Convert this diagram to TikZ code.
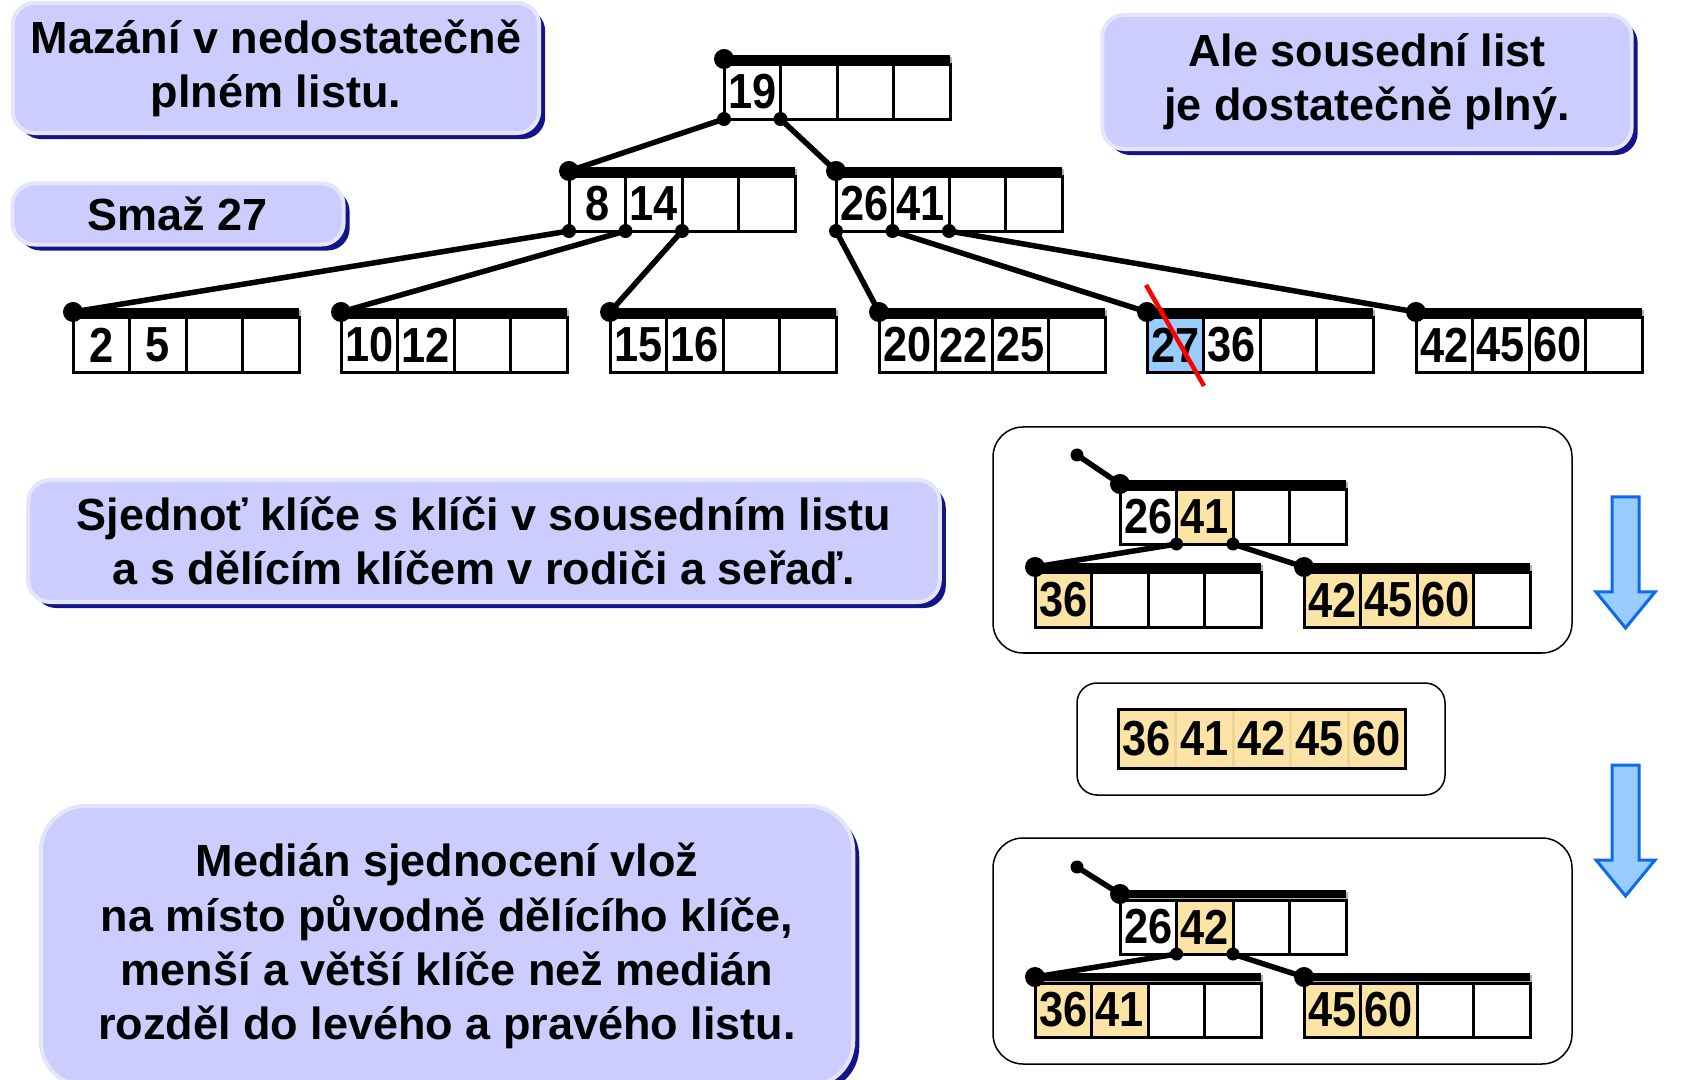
\documentclass[tikz,border=0pt]{standalone}
\usepackage{fontspec}
\setmainfont{Liberation Sans}
\newfontfamily\keyfont{Liberation Sans}[FakeStretch=0.88]
\usetikzlibrary{calc,shadows}

\definecolor{lav}{HTML}{CCCCFF}
\definecolor{lavrim}{HTML}{E4E4FB}
\definecolor{navy}{HTML}{14148A}
\definecolor{sand}{HTML}{FCE3A6}
\definecolor{sandline}{HTML}{EDD595}
\definecolor{sky}{HTML}{99CCFF}
\definecolor{skyline}{HTML}{0A6AF0}

% one B-tree page: name, top-left corner of its cells, key/fill list
\newcommand{\btpage}[3]{%
  \coordinate (#1) at (#2);
  \fill[black!30] ($(#1)+(2,-8)$) rectangle ($(#1)+(228,56)$);
  \foreach \k/\f [count=\i] in {#3}
    \node[cell, fill=\f] (#1-\i) at ($(#1)+(\i*56.5-56.5,0)$) {\k};
  \draw[topbar] ($(#1)+(0,-6)$) -- ($(#1-4.north east)+(0,-6)$);
  \fill ($(#1)+(0,-6)$) coordinate (#1-top) circle (1mm);
}

\begin{document}
\begin{tikzpicture}[x=0.01cm, y=-0.01cm,
  cell/.style={draw, line width=0.3mm, anchor=north west, minimum width=5.65mm,
    minimum height=5.4mm, inner sep=0pt, outer sep=0pt,
    font=\keyfont\fontsize{14}{14}\selectfont\bfseries},
  rowcell/.style={cell, draw=sandline, fill=sand, minimum width=5.75mm,
    minimum height=5.9mm},
  topbar/.style={line width=0.8mm},
  link/.style={line width=0.55mm},
  notebox/.style={draw=lavrim, line width=0.4mm, fill=lav, rounded corners=2.2mm,
    align=center, font=\fontsize{12.8}{15.4}\selectfont\bfseries,
    drop shadow={shadow xshift=0.6mm, shadow yshift=-0.6mm, fill=navy, opacity=1}},
  frame/.style={draw, line width=0.15mm},
  downarrow/.style={draw=skyline, fill=sky, line width=0.3mm, line join=miter}
]
\useasboundingbox (0,0) rectangle (1698,1080);

% text boxes
\node[notebox, minimum width=52.6mm, minimum height=13mm] (t1) at (276,68)
  {Mazání v nedostatečně\\plném listu.};
\node[notebox, minimum width=33.1mm, minimum height=6.1mm] (t2) at (178,214)
  {Smaž 27};
\node[notebox, minimum width=52.9mm, minimum height=13.4mm] (t3) at (1367,82)
  {Ale sousední list\\je dostatečně plný.};
\node[notebox, minimum width=91.1mm, minimum height=12.2mm] (t4) at (484,541)
  {Sjednoť klíče s klíči v sousedním listu\\a s dělícím klíčem v rodiči a seřaď.};
\node[notebox, rounded corners=4.5mm, minimum width=81.2mm, minimum height=28mm] (t5)
  at (447,946) {Medián sjednocení vlož\\na místo původně dělícího klíče,\\
  menší a větší klíče než medián\\rozděl do levého a pravého listu.};

% the tree
\btpage{root}{724,65}{19/white, /white, /white, /white}
\btpage{ml}{569,177}{8/white,14/white, /white, /white}
\btpage{mr}{836,177}{26/white,41/white, /white, /white}
\btpage{l1}{73,318}{2/white,5/white, /white, /white}
\btpage{l2}{341,318}{10/white,12/white, /white, /white}
\btpage{l3}{610,318}{15/white,16/white, /white, /white}
\btpage{l4}{879,318}{20/white,22/white,25/white, /white}
\btpage{l5}{1147,318}{27/sky,36/white, /white, /white}
\btpage{l6}{1416,318}{42/white,45/white,60/white, /white}

\draw[link] (root-1.south west) -- (ml-top);
\draw[link] (root-2.south west) -- (mr-top);
\draw[link] (ml-1.south west) -- (l1-top);
\draw[link] (ml-2.south west) -- (l2-top);
\draw[link] (ml-3.south west) -- (l3-top);
\draw[link] (mr-1.south west) -- (l4-top);
\draw[link] (mr-2.south west) -- (l5-top);
\draw[link] (mr-3.south west) -- (l6-top);
\foreach \p in {root-1,root-2,ml-1,ml-2,ml-3,mr-1,mr-2,mr-3}
  \fill (\p.south west) circle (0.7mm);

\draw[red, line width=0.45mm] (1146,285) -- (1204,386);

% before
\draw[frame, rounded corners=3mm] (993,427) rectangle (1572,653);
\coordinate (ta) at (1077,455);
\btpage{pa}{1120,490}{26/white,41/sand, /white, /white}
\btpage{ca1}{1035,573}{36/sand, /white, /white, /white}
\btpage{ca2}{1304,573}{42/sand,45/sand,60/sand, /white}
\draw[link] (ta) -- (pa-top);
\draw[link] (pa-2.south west) -- (ca1-top);
\draw[link] (pa-3.south west) -- (ca2-top);
\fill (ta) circle (0.65mm) (pa-2.south west) circle (0.65mm)
  (pa-3.south west) circle (0.65mm);

% merged keys
\draw[frame, rounded corners=2mm] (1077,683) rectangle (1445,795);
\coordinate (row) at (1118,709);
\foreach \k [count=\i] in {36,41,42,45,60}
  \node[rowcell] (row-\i) at ($(row)+(\i*57.5-57.5,0)$) {\k};
\draw[line width=0.3mm] (row-1.north west) rectangle (row-5.south east);

% after
\draw[frame, rounded corners=3mm] (993,838) rectangle (1572,1064);
\coordinate (tc) at (1077,867);
\btpage{pc}{1120,900}{26/white,42/sand, /white, /white}
\btpage{cc1}{1035,983}{36/sand,41/sand, /white, /white}
\btpage{cc2}{1304,983}{45/sand,60/sand, /white, /white}
\draw[link] (tc) -- (pc-top);
\draw[link] (pc-2.south west) -- (cc1-top);
\draw[link] (pc-3.south west) -- (cc2-top);
\fill (tc) circle (0.65mm) (pc-2.south west) circle (0.65mm)
  (pc-3.south west) circle (0.65mm);

% step arrows
\foreach \t in {497,765}
  \filldraw[downarrow] (1612,\t) -- (1639,\t) -- (1639,\t+95) -- (1655,\t+95)
    -- (1625.5,\t+131) -- (1596,\t+95) -- (1612,\t+95) -- cycle;
\end{tikzpicture}
\end{document}
